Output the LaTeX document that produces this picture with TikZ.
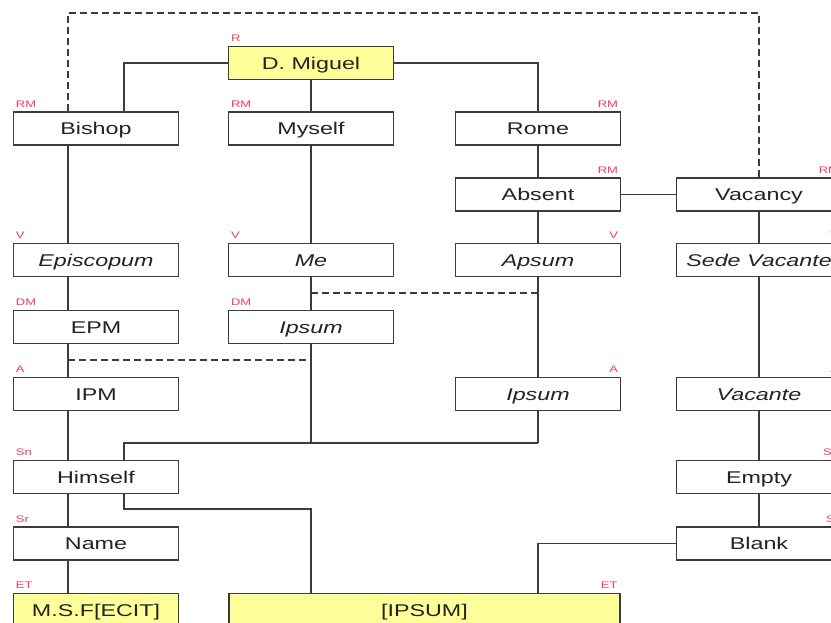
\documentclass[tikz,border=0pt]{standalone}
\usepackage{fontspec}
\setmainfont{Liberation Sans}[FakeStretch=1.37]
\usetikzlibrary{calc}
\definecolor{tagred}{RGB}{245,60,90}
\definecolor{boxyellow}{RGB}{255,255,153}
\definecolor{linegray}{RGB}{60,60,60}
\definecolor{txtgray}{RGB}{35,35,35}
\begin{document}
\begin{tikzpicture}[x=1pt,y=-1pt,
  box/.style={draw=linegray, line width=1.4pt, fill=white, minimum width=165pt, minimum height=33pt, inner sep=0pt, text height=12.2pt, text depth=0pt, text=txtgray, font=\fontsize{17}{20}\selectfont},
  ybox/.style={box, fill=boxyellow},
  it/.style={font=\fontsize{17}{20}\selectfont\itshape},
  conn/.style={draw=linegray, line width=1.8pt},
  dconn/.style={conn, dash pattern=on 7pt off 4pt},
  tag/.style={text=tagred, font=\fontsize{9.5}{9.5}\selectfont, inner sep=0pt}]
\useasboundingbox (0,0) rectangle (831,623);
\clip (0,0) rectangle (831,623);
% nodes
\node[ybox] (miguel) at (311,63) {D. Miguel};
\node[box] (bishop) at (96,128.5) {Bishop};
\node[box] (myself) at (311,128.5) {Myself};
\node[box] (rome) at (538,128.5) {Rome};
\node[box] (absent) at (538,194.5) {Absent};
\node[box] (vacancy) at (759,194.5) {Vacancy};
\node[box,it] (episcopum) at (96,260) {Episcopum};
\node[box,it] (me) at (311,260) {Me};
\node[box,it] (apsum) at (538,260) {Apsum};
\node[box,it] (sede) at (759,260) {Sede Vacante};
\node[box] (epm) at (96,327) {EPM};
\node[box,it] (ipsumA) at (311,327) {Ipsum};
\node[box] (ipm) at (96,394) {IPM};
\node[box,it] (ipsumB) at (538,394) {Ipsum};
\node[box,it] (vacante) at (759,394) {Vacante};
\node[box] (himself) at (96,477) {Himself};
\node[box] (empty) at (759,477) {Empty};
\node[box] (name) at (96,543.5) {Name};
\node[box] (blank) at (759,543.5) {Blank};
\node[ybox] (msf) at (96,610) {M.S.F[ECIT]};
\node[ybox, minimum width=391pt] (ipsumbig) at (424.5,610) {[IPSUM]};
% tags
\node[tag, anchor=base west] (t1) at ($(miguel.north west)+(3,-4)$) {R};
\node[tag, anchor=base west] (t2) at ($(bishop.north west)+(3,-4)$) {RM};
\node[tag, anchor=base west] (t3) at ($(myself.north west)+(3,-4)$) {RM};
\node[tag, anchor=base east] (t4) at ($(rome.north east)+(-3,-4)$) {RM};
\node[tag, anchor=base east] (t5) at ($(absent.north east)+(-3,-4)$) {RM};
\node[tag, anchor=base east] (t6) at ($(vacancy.north east)+(-3,-4)$) {RM};
\node[tag, anchor=base west] (t7) at ($(episcopum.north west)+(3,-4)$) {V};
\node[tag, anchor=base west] (t8) at ($(me.north west)+(3,-4)$) {V};
\node[tag, anchor=base east] (t9) at ($(apsum.north east)+(-3,-4)$) {V};
\node[tag, anchor=base east] (t10) at ($(sede.north east)+(-3,-4)$) {V};
\node[tag, anchor=base west] (t11) at ($(epm.north west)+(3,-4)$) {DM};
\node[tag, anchor=base west] (t12) at ($(ipsumA.north west)+(3,-4)$) {DM};
\node[tag, anchor=base west] (t13) at ($(ipm.north west)+(3,-4)$) {A};
\node[tag, anchor=base east] (t14) at ($(ipsumB.north east)+(-3,-4)$) {A};
\node[tag, anchor=base east] (t15) at ($(vacante.north east)+(-3,-4)$) {A};
\node[tag, anchor=base west] (t16) at ($(himself.north west)+(3,-4)$) {Sn};
\node[tag, anchor=base east] (t17) at ($(empty.north east)+(-3,-4)$) {Sn};
\node[tag, anchor=base west] (t18) at ($(name.north west)+(3,-4)$) {Sr};
\node[tag, anchor=base east] (t19) at ($(blank.north east)+(-3,-4)$) {Sr};
\node[tag, anchor=base west] (t20) at ($(msf.north west)+(3,-4)$) {ET};
\node[tag, anchor=base east] (t21) at ($(ipsumbig.north east)+(-3,-4)$) {ET};
% helper coordinates
\coordinate (xa) at (68,0);
\coordinate (xb) at (124,0);
\coordinate (ytop) at (0,13);
\coordinate (yh) at (0,443);
\coordinate (yl) at (0,509);
\coordinate (yd1) at (0,293);
\coordinate (yd2) at (0,360);
% connectors
\draw[conn] (miguel.west) -| (bishop.north -| xb);
\draw[conn] (miguel.south) -- (myself.north);
\draw[conn] (miguel.east) -| (rome.north);
\draw[dconn] (bishop.north -| xa) -- (xa |- ytop) -| (vacancy.north);
\foreach \a/\b in {bishop/episcopum, episcopum/epm, epm/ipm, ipm/himself, himself/name, name/msf}
  \draw[conn] (\a.south -| xa) -- (\b.north -| xa);
\foreach \a/\b in {myself/me, me/ipsumA, rome/absent, absent/apsum, apsum/ipsumB, vacancy/sede, sede/vacante, vacante/empty, empty/blank}
  \draw[conn] (\a.south) -- (\b.north);
\draw[conn] (absent.east) -- (vacancy.west);
\draw[conn] (ipsumA.south) -- (ipsumA.south |- yh);
\draw[conn] (ipsumB.south) -- (ipsumB.south |- yh);
\draw[conn] (himself.north -| xb) -- (xb |- yh) -- (ipsumB.south |- yh);
\draw[conn] (himself.south -| xb) -- (xb |- yl) -| (ipsumbig.north -| myself);
\draw[conn] (blank.west) -| (ipsumbig.north -| ipsumB);
\draw[dconn] (me.south |- yd1) -- (apsum.south |- yd1);
\draw[dconn] (xa |- yd2) -- (ipsumA.south |- yd2);
\end{tikzpicture}
\end{document}
